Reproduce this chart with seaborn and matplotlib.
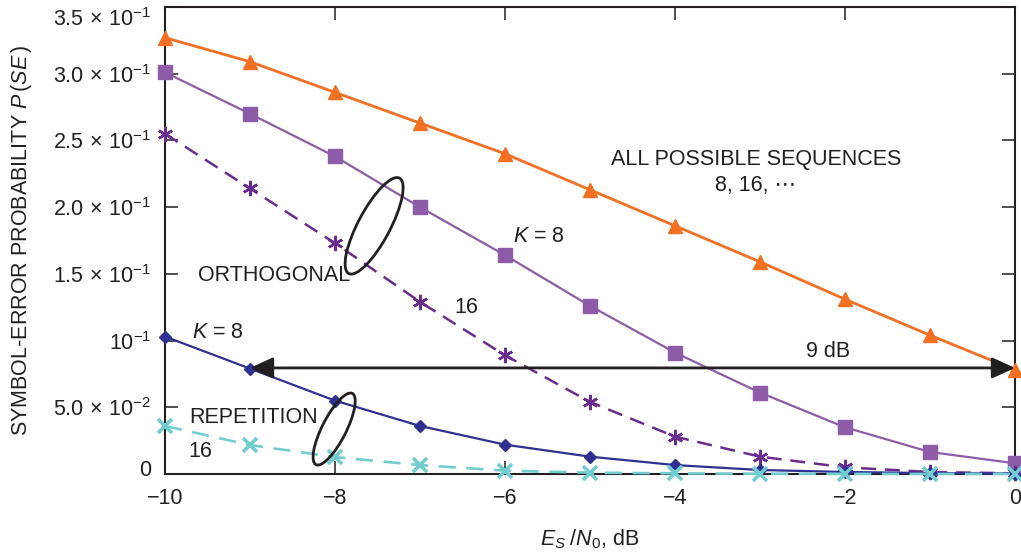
import numpy as np
import pandas as pd
import matplotlib
matplotlib.use("Agg")
import matplotlib.pyplot as plt
import matplotlib.transforms as mtransforms
from matplotlib.patches import Ellipse
import seaborn as sns

# Symbol-error probability versus Es/N0 for several sequence families
snr_db = [-10, -9, -8, -7, -6, -5, -4, -3, -2, -1, 0]
all_sequences = [0.327, 0.309, 0.286, 0.263, 0.240, 0.213, 0.186, 0.159, 0.131, 0.104, 0.078]
orthogonal_k8 = [0.301, 0.270, 0.238, 0.200, 0.164, 0.126, 0.091, 0.061, 0.035, 0.0165, 0.008]
orthogonal_k16 = [0.255, 0.214, 0.173, 0.129, 0.089, 0.054, 0.028, 0.013, 0.005, 0.0015, 0.0005]
repetition_k8 = [0.103, 0.079, 0.055, 0.036, 0.022, 0.013, 0.0067, 0.003, 0.0015, 0.0007, 0.0003]
repetition_k16 = [0.036, 0.0217, 0.0127, 0.0067, 0.0025, 0.001, 0.0005, 0.0002, 0.0001, 0.00005, 0.00002]

x_ticks = [-10, -8, -6, -4, -2, 0]
x_tick_labels = ["\u221210", "\u22128", "\u22126", "\u22124", "\u22122", "0"]
y_ticks = [0, 0.05, 0.10, 0.15, 0.20, 0.25, 0.30, 0.35]
y_tick_labels = ["0", r"$5.0\,\times\,10^{-2}$", r"$10^{-1}$", r"$1.5\,\times\,10^{-1}$",
                 r"$2.0\,\times\,10^{-1}$", r"$2.5\,\times\,10^{-1}$",
                 r"$3.0\,\times\,10^{-1}$", r"$3.5\,\times\,10^{-1}$"]

sns.set_style("ticks")
plt.rcParams["font.family"] = ["Liberation Sans", "DejaVu Sans"]
plt.rcParams["mathtext.fontset"] = "custom"
plt.rcParams["mathtext.rm"] = "Liberation Sans"
plt.rcParams["mathtext.it"] = "Liberation Sans:italic"
plt.rcParams["mathtext.bf"] = "Liberation Sans:bold"

INK = "#231F20"
FS = 15.5

fig = plt.figure(figsize=(10.21, 5.56), dpi=100)
ax = fig.add_axes([165 / 1021, 1 - 474 / 556, (1015 - 165) / 1021, (474 - 7) / 556])

series = [
    (all_sequences, "#F36F21", "^", 9.5, 1.0, "-", 2.0),
    (orthogonal_k8, "#8E5BA8", "s", 9.5, 1.0, "-", 1.6),
    (orthogonal_k16, "#6A2C8E", (6, 2, 0), 11, 1.8, (0, (6, 3.5)), 1.8),
    (repetition_k8, "#2E3192", "D", 6.5, 1.0, "-", 1.6),
    (repetition_k16, "#72CDD0", "x", 10, 2.6, (0, (6.5, 4)), 1.9),
]

for values, color, marker, ms, mew, ls, lw in series:
    df = pd.DataFrame({"snr": snr_db, "pe": values})
    sns.lineplot(data=df, x="snr", y="pe", ax=ax, color=color, marker=marker,
                 markersize=ms, markeredgewidth=mew, markeredgecolor=color,
                 markerfacecolor=color, linestyle=ls, linewidth=lw,
                 clip_on=False, zorder=4)

ax.set_xlim(-10, 0)
ax.set_ylim(0, 0.35)
ax.set_xticks(x_ticks)
ax.set_xticklabels(x_tick_labels)
ax.set_yticks(y_ticks)
ax.set_yticklabels(y_tick_labels)
ax.tick_params(axis="both", direction="in", length=9.5, width=1.1, color=INK,
               labelcolor=INK, labelsize=FS, top=True, right=True)
ax.tick_params(axis="x", pad=10)
ax.tick_params(axis="y", pad=10)
for sp in ax.spines.values():
    sp.set_visible(True)
    sp.set_linewidth(1.5)
    sp.set_color(INK)

# keep the end labels of the y axis inside the frame
ylabels = ax.get_yticklabels()
ylabels[-1].set_transform(ylabels[-1].get_transform()
                          + mtransforms.ScaledTranslation(0, -10 / 100, fig.dpi_scale_trans))
ylabels[0].set_transform(ylabels[0].get_transform()
                         + mtransforms.ScaledTranslation(0, 6 / 100, fig.dpi_scale_trans))

ax.set_xlabel(r"$E_S\;/N_0$, dB", fontsize=FS, color=INK)
ax.set_ylabel(r"SYMBOL-ERROR PROBABILITY $P\,(SE\,)$", fontsize=FS, color=INK)
ax.xaxis.set_label_coords(0.5, -0.115)
ax.yaxis.set_label_coords(-0.154, 0.5)

# 9 dB separation arrow
ax.annotate("", xy=(0, 0.0795), xytext=(-9, 0.0795),
            arrowprops=dict(arrowstyle="<|-|>,head_length=0.7,head_width=0.32",
                            mutation_scale=20, lw=2, color=INK,
                            shrinkA=0, shrinkB=0),
            zorder=5, annotation_clip=False)
ax.text(-2.2, 0.0915, "9 dB", fontsize=FS, color=INK, ha="center", va="center")

ax.text(-3.05, 0.2354, "ALL POSSIBLE SEQUENCES", fontsize=FS, color=INK,
        ha="center", va="center")
ax.text(-3.05, 0.216, "8, 16, \u22ef", fontsize=FS, color=INK, ha="center",
        va="center", family=["Liberation Sans", "DejaVu Sans"])

ax.text(-5.91, 0.178, r"$K$ = 8", fontsize=FS, color=INK, ha="left", va="center")
ax.text(-9.61, 0.149, "ORTHOGONAL", fontsize=FS, color=INK, ha="left", va="center")
ax.text(-6.59, 0.125, "16", fontsize=FS, color=INK, ha="left", va="center")
ax.text(-9.68, 0.1064, r"$K$ = 8", fontsize=FS, color=INK, ha="left", va="center")
ax.text(-9.71, 0.042, "REPETITION", fontsize=FS, color=INK, ha="left", va="center")
ax.text(-9.72, 0.0172, "16", fontsize=FS, color=INK, ha="left", va="center")

# Grouping ellipses, sized in inches around a data-space centre
for (cx, cy), w, h, ang in [((-7.54, 0.186), 1.08, 0.32, 62),
                            ((-8.01, 0.0337), 0.80, 0.24, 63)]:
    tr = fig.dpi_scale_trans + mtransforms.ScaledTranslation(cx, cy, ax.transData)
    ax.add_patch(Ellipse((0, 0), w, h, angle=ang, transform=tr, fill=False,
                         edgecolor=INK, linewidth=2, zorder=6))

fig.savefig("out.png", dpi=100)
